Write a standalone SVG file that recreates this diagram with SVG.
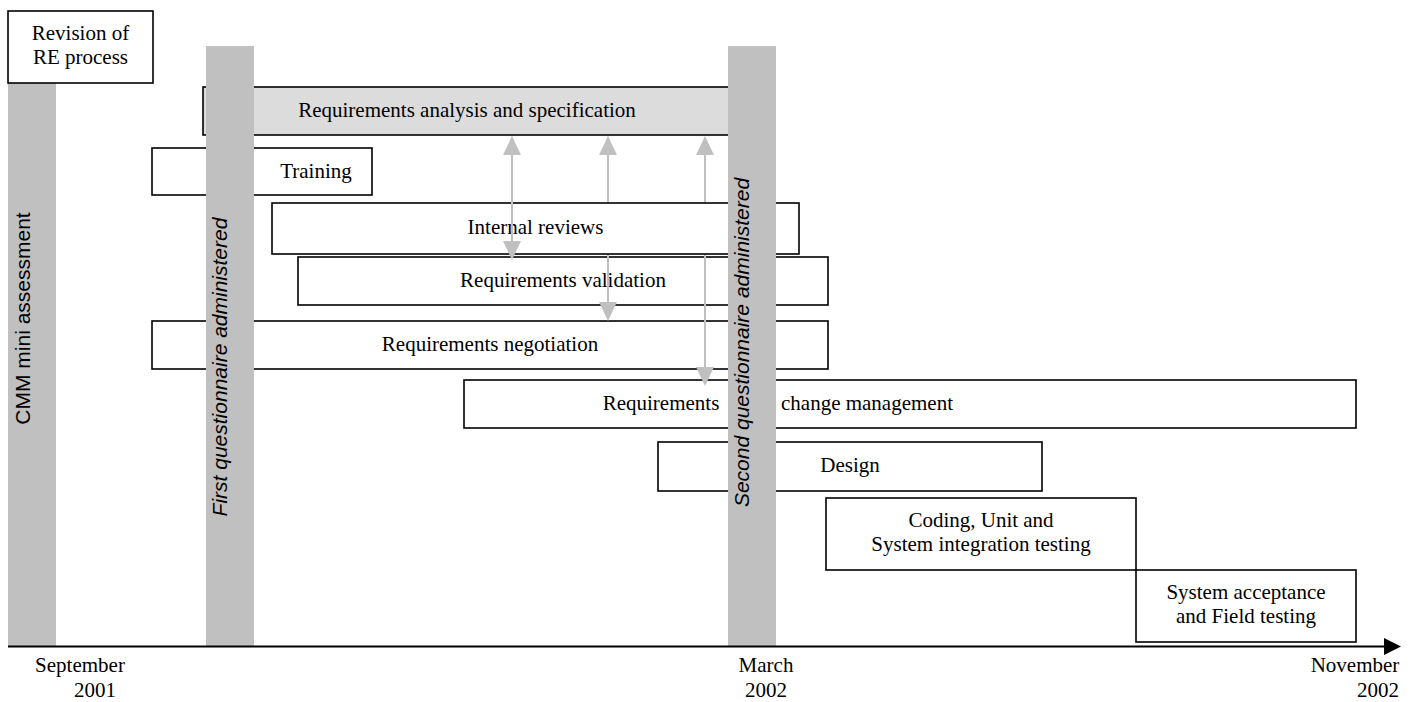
<svg xmlns="http://www.w3.org/2000/svg" width="1416" height="702" viewBox="0 0 1416 702">
<style>
.box{fill:#fff;stroke:#000;stroke-width:1.6}
.grey{fill:#dcdcdc;stroke:#000;stroke-width:1.6}
.bar{fill:#c0c0c0}
.t{font-family:"Liberation Serif","Times New Roman",serif;font-size:21px;fill:#000;text-anchor:middle}
.v{font-family:"Liberation Sans",Arial,sans-serif;font-size:21px;fill:#000;text-anchor:middle}
.i{font-style:italic}
.arr{stroke:#c0c0c0;stroke-width:2;fill:none}
.head{fill:#c0c0c0}
</style>
<rect width="1416" height="702" fill="#fff"/>
<g id="ras"><rect class="grey" x="203" y="87" width="560" height="48"/><text class="t" x="467" y="117">Requirements analysis and specification</text></g>
<g id="training"><rect class="box" x="152" y="148" width="220" height="47"/><text class="t" x="316" y="178">Training</text></g>
<g id="validation"><rect class="box" x="298" y="257" width="530" height="48"/><text class="t" x="563" y="287">Requirements validation</text></g>
<g id="negotiation"><rect class="box" x="152" y="321" width="676" height="48"/><text class="t" x="490" y="351">Requirements negotiation</text></g>
<g id="change"><rect class="box" x="464" y="380" width="892" height="48"/><text class="t" x="661" y="410">Requirements</text><text class="t" x="867" y="410">change management</text></g>
<g id="design"><rect class="box" x="658" y="442" width="384" height="49"/><text class="t" x="850" y="472">Design</text></g>
<g id="coding"><rect class="box" x="826" y="498" width="310" height="72"/><text class="t" x="981" y="527">Coding, Unit and</text><text class="t" x="981" y="551">System integration testing</text></g>
<g id="acceptance"><rect class="box" x="1136" y="570" width="220" height="72"/><text class="t" x="1246" y="599">System acceptance</text><text class="t" x="1246" y="623">and Field testing</text></g>
<g id="connectors">
<g id="arrowB"><line class="arr" x1="608" y1="154" x2="608" y2="303"/><polygon class="head" points="608,136 599,155 617,155"/><polygon class="head" points="608,321 599,302 617,302"/></g>
<g id="arrowC"><line class="arr" x1="705" y1="154" x2="705" y2="368"/><polygon class="head" points="705,136 696,155 714,155"/><polygon class="head" points="705,386 696,367 714,367"/></g>
</g>
<g id="reviews"><rect class="box" x="272" y="203" width="527" height="51"/><text class="t" x="535.5" y="234">Internal reviews</text></g>
<g id="connectors2">
<g id="arrowA"><line class="arr" x1="512" y1="154" x2="512" y2="242"/><polygon class="head" points="512,136 503,155 521,155"/><polygon class="head" points="512,260 503,241 521,241"/></g>
</g>
<g id="cmm"><rect class="bar" x="8" y="83" width="48" height="563"/><text class="v" transform="translate(30,318.5) rotate(-90)">CMM mini assessment</text></g>
<g id="q1"><rect class="bar" x="206" y="46" width="48" height="600"/><text class="v i" transform="translate(227,367) rotate(-90)">First questionnaire administered</text></g>
<g id="q2"><rect class="bar" x="728" y="46" width="48" height="600"/><text class="v i" transform="translate(749,342.5) rotate(-90)">Second questionnaire administered</text></g>
<g id="revision"><rect class="box" x="8" y="11" width="145" height="72"/><text class="t" x="80.5" y="40">Revision of</text><text class="t" x="80.5" y="64">RE process</text></g>
<g id="axis">
<line x1="8" y1="646.5" x2="1386" y2="646.5" stroke="#000" stroke-width="2"/>
<polygon points="1401,646.5 1384,638 1384,655" fill="#000"/>
<text class="t" x="80" y="672">September</text><text class="t" x="95" y="697">2001</text>
<text class="t" x="766" y="672">March</text><text class="t" x="766" y="697">2002</text>
<text class="t" x="1355" y="672">November</text><text class="t" x="1378" y="697">2002</text>
</g>
</svg>
